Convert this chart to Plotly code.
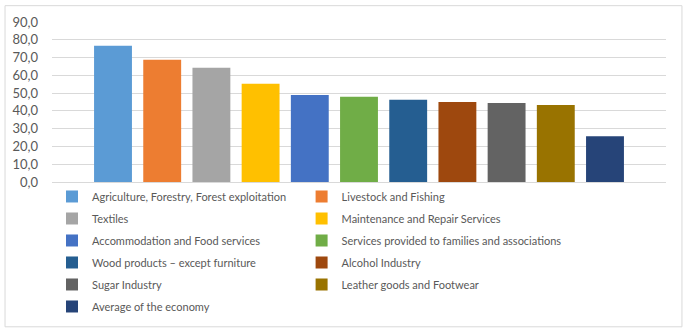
import plotly.graph_objects as go

categories = [
    "Agriculture, Forestry, Forest exploitation",
    "Livestock and Fishing",
    "Textiles",
    "Maintenance and Repair Services",
    "Accommodation and Food services",
    "Services provided to families and associations",
    "Wood products \u2013 except furniture",
    "Alcohol Industry",
    "Sugar Industry",
    "Leather goods and Footwear",
    "Average of the economy",
]
values = [76.7, 68.8, 64.2, 55.2, 49.0, 47.9, 46.2, 45.0, 44.4, 43.3, 25.8]
colors = ["#5B9BD5", "#ED7D31", "#A5A5A5", "#FFC000", "#4472C4", "#70AD47",
          "#255E91", "#9E480E", "#636363", "#997300", "#264478"]
tick_vals = [0, 10, 20, 30, 40, 50, 60, 70, 80, 90]
tick_text = ["0,0", "10,0", "20,0", "30,0", "40,0", "50,0", "60,0", "70,0", "80,0", "90,0"]

FONT = "Lato, Liberation Sans, sans-serif"

fig = go.Figure()
for i, (name, v, c) in enumerate(zip(categories, values, colors)):
    fig.add_trace(go.Bar(x=[i], y=[v], name=name, marker_color=c,
                         marker_line_width=0, width=0.77,
                         legend="legend" if i % 2 == 0 else "legend2",
                         legendgroup=f"g{i}"))

leg_common = dict(orientation="v", yanchor="top", xanchor="left",
                  xref="container", yref="container",
                  traceorder="grouped", tracegroupgap=3, itemwidth=30,
                  bgcolor="rgba(0,0,0,0)",
                  font=dict(family=FONT, size=11, color="#595959"))

fig.update_layout(
    width=690, height=333,
    margin=dict(l=52, r=24, t=22, b=151, autoexpand=False),
    paper_bgcolor="white", plot_bgcolor="white",
    barmode="overlay",
    font=dict(family=FONT, size=12, color="#595959"),
    showlegend=True,
    legend=dict(x=0.0754, y=0.4535, **leg_common),
    legend2=dict(x=0.4371, y=0.4535, **leg_common),
    xaxis=dict(range=[-1.24, 11.24], showticklabels=False, ticks="",
               showgrid=False, zeroline=False, showline=True,
               linecolor="#d9d9d9", linewidth=1, fixedrange=True),
    yaxis=dict(range=[0, 90], tickvals=tick_vals, ticktext=tick_text,
               showgrid=True, gridcolor="#d9d9d9", gridwidth=1,
               zeroline=False, showline=False, ticks="",
               ticklabelstandoff=13, automargin=False,
               tickfont=dict(family=FONT, size=13, color="#595959")),
    shapes=[dict(type="rect", xref="paper", yref="paper",
                 x0=-0.0765, x1=1.026, y0=-0.905, y1=1.102,
                 line=dict(color="#d9d9d9", width=1), layer="below")],
)

fig.write_html("out.html")
